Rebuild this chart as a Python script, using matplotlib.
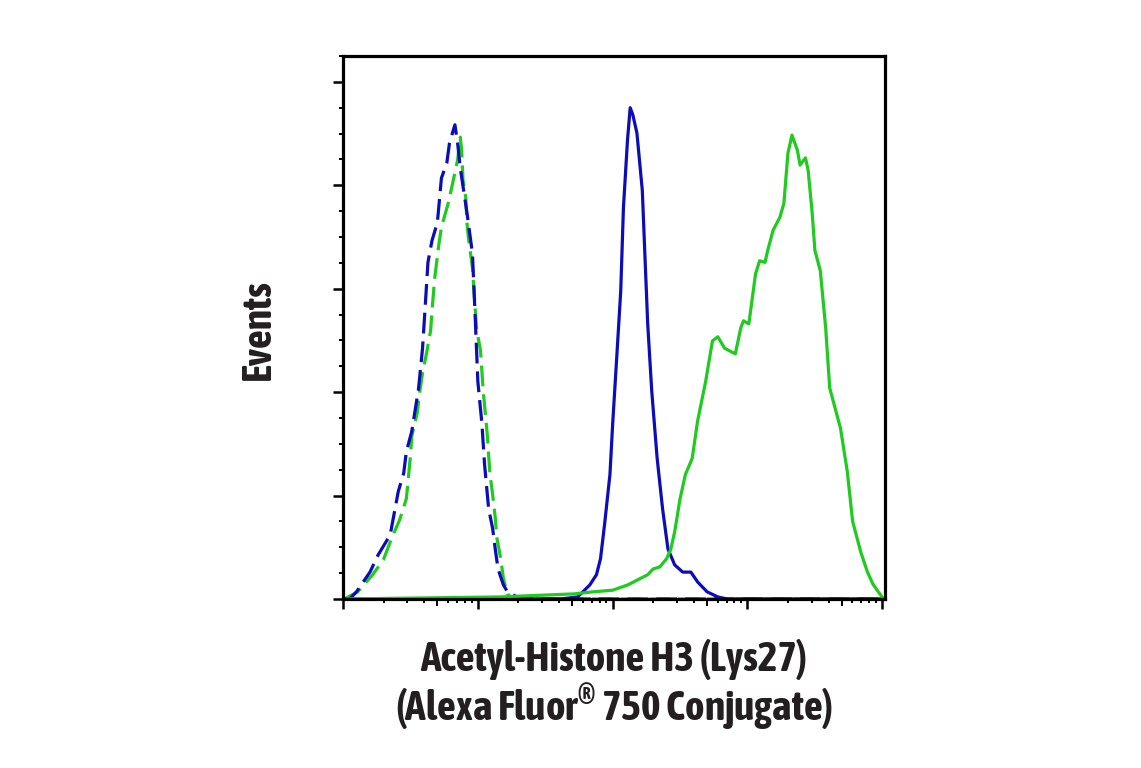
import numpy as np
import matplotlib
matplotlib.use('Agg')
import matplotlib.pyplot as plt
from matplotlib import font_manager
from matplotlib.ticker import LogLocator, MultipleLocator, NullFormatter

# log10 of fluorescence intensity, and % of max events
blue_dash_x = [0.00, 0.05, 0.10, 0.20, 0.26, 0.35, 0.41, 0.45, 0.47, 0.51, 0.56, 0.59, 0.61, 0.63,
               0.66, 0.70, 0.73, 0.77, 0.79, 0.83, 0.85, 0.87, 0.92, 0.96, 0.98, 1.00, 1.03, 1.05,
               1.08, 1.11, 1.13, 1.15, 1.19, 1.22, 1.29, 1.46, 4.02]
blue_dash_y = [0, 0, 1.4, 5.2, 8.5, 12.4, 20.8, 24.3, 28.5, 32.4, 40.6, 48.5, 56.7, 65.1,
               69.3, 72.8, 81.4, 84.3, 88.2, 91.7, 88.2, 83.3, 74.6, 66.8, 54.8, 42.1, 34.0, 26.0,
               17.5, 13.6, 9.5, 5.8, 2.7, 1.4, 0.4, 0, 0]

green_dash_x = [0.00, 0.01, 0.11, 0.22, 0.30, 0.36, 0.42, 0.47, 0.50, 0.51, 0.55, 0.57, 0.59, 0.62,
                0.65, 0.66, 0.68, 0.71, 0.73, 0.78, 0.81, 0.85, 0.87, 0.88, 0.89, 0.91, 0.92, 0.93,
                0.96, 0.98, 0.99, 1.02, 1.04, 1.07, 1.09, 1.11, 1.13, 1.14, 1.17, 1.19, 1.22,
                1.25, 1.46, 4.02]
green_dash_y = [0, 0, 1.4, 4.7, 7.6, 11.7, 15.3, 19.4, 27.6, 31.5, 35.9, 40.2, 43.7, 47.6,
                51.9, 55.7, 62.0, 68.4, 71.9, 76.5, 80.0, 84.9, 89.3, 86.8, 81.0, 77.7, 72.6, 69.9,
                64.1, 56.3, 52.4, 48.0, 40.2, 31.8, 24.1, 20.2, 15.5, 12.0, 7.8, 3.9, 1.0,
                0.2, 0, 0]

blue_x = [0.00, 1.61, 1.74, 1.83, 1.88, 1.91, 1.94, 1.98, 2.00, 2.03, 2.06, 2.08, 2.11, 2.13,
          2.15, 2.18, 2.22, 2.24, 2.26, 2.29, 2.33, 2.37, 2.41, 2.46, 2.52, 2.58, 2.63, 2.70,
          2.78, 2.85, 4.02]
blue_y = [0, 0, 0.4, 2.7, 4.7, 7.8, 14.4, 24.1, 33.8, 46.6, 59.6, 75.7, 88.7, 95.0,
          93.6, 90.1, 79.0, 66.0, 53.2, 40.2, 27.2, 17.5, 9.7, 6.6, 5.2, 5.2, 3.3, 1.4,
          0.4, 0, 0]

green_x = [0.00, 1.17, 1.72, 1.86, 2.00, 2.11, 2.20, 2.26, 2.30, 2.35, 2.40, 2.43, 2.46, 2.50,
           2.54, 2.59, 2.63, 2.69, 2.74, 2.78, 2.83, 2.91, 2.95, 2.97, 3.01, 3.06, 3.09, 3.13,
           3.15, 3.19, 3.24, 3.27, 3.30, 3.33, 3.37, 3.39, 3.43, 3.45, 3.48, 3.50, 3.54, 3.58,
           3.61, 3.65, 3.69, 3.74, 3.78, 3.84, 3.89, 3.93, 3.97, 4.01]
green_y = [0, 0.4, 1.0, 1.4, 1.7, 2.7, 3.9, 4.7, 5.8, 6.2, 7.8, 9.5, 13.0, 19.4,
           24.1, 27.2, 34.4, 42.1, 49.9, 50.7, 48.5, 47.4, 52.4, 53.8, 53.2, 62.9, 65.4, 65.1,
           67.4, 71.3, 73.8, 76.5, 86.2, 89.7, 86.8, 83.9, 85.3, 82.9, 74.6, 67.4, 63.5, 52.4,
           40.8, 36.9, 33.0, 24.7, 15.0, 9.1, 5.2, 2.9, 1.4, 0]

BLUE = '#0c0cb8'
GREEN = '#1ecb1e'
TXT = '#231f20'

# look for a narrow / condensed bold face among the installed fonts
narrow = None
for f in font_manager.fontManager.ttflist:
    n = f.name.lower()
    if ('narrow' in n or 'condensed' in n) and f.weight in ('bold', 700):
        narrow = f.fname
        break
if narrow is None:
    for f in font_manager.fontManager.ttflist:
        if 'condensed' in f.fname.lower() and 'bold' in f.fname.lower():
            narrow = f.fname
            break

if narrow:
    fp = font_manager.FontProperties(fname=narrow, size=30)
else:
    fp = font_manager.FontProperties(family='DejaVu Sans', weight='bold', stretch='condensed', size=24)

plt.rcParams['mathtext.default'] = 'regular'

fig = plt.figure(figsize=(11.41, 7.68), dpi=100)
ax = fig.add_axes([343/1141, 1-599/768, 542/1141, 543/768])

dash = (6.5, 2.5)
ax.plot(10**np.array(green_dash_x), green_dash_y, color=GREEN, lw=2.3, dashes=dash)
ax.plot(10**np.array(blue_dash_x), blue_dash_y, color=BLUE, lw=2.3, dashes=dash)
ax.plot(10**np.array(blue_x), blue_y, color=BLUE, lw=2.3)
ax.plot(10**np.array(green_x), green_y, color=GREEN, lw=2.3)

ax.set_xscale('log')
ax.set_xlim(1, 10**4.02)
ax.set_ylim(0, 105)
ax.xaxis.set_major_locator(LogLocator(base=10, numticks=10))
ax.xaxis.set_minor_locator(LogLocator(base=10, subs=np.arange(2, 10), numticks=20))
ax.xaxis.set_major_formatter(NullFormatter())
ax.xaxis.set_minor_formatter(NullFormatter())
ax.yaxis.set_major_locator(MultipleLocator(20))
ax.yaxis.set_minor_locator(MultipleLocator(5))
ax.yaxis.set_major_formatter(NullFormatter())

for s in ax.spines.values():
    s.set_linewidth(2.3)
    s.set_color('black')
ax.tick_params(which='major', length=7.5, width=1.8, direction='out')
ax.tick_params(which='minor', length=3, width=1.4, direction='out')

# the "5" minor ticks of each decade are drawn a bit longer
for loc, t in zip(ax.xaxis.get_minorticklocs(), ax.xaxis.get_minor_ticks()):
    m = loc / 10**np.floor(np.log10(loc) + 1e-9)
    if abs(m - 5) < 0.01:
        t.tick1line.set_markersize(5)

fig.text(259/1141, 1-330/768, 'Events', rotation=90, ha='center', va='center',
         color=TXT, fontproperties=fp)
fig.text(614/1141, 1-659/768, 'Acetyl-Histone H3 (Lys27)', ha='center', va='center',
         color=TXT, fontproperties=fp)
fig.text(614/1141, 1-707/768, '(Alexa Fluor$^{®}$ 750 Conjugate)', ha='center', va='center',
         color=TXT, fontproperties=fp)

fig.savefig('out.png', dpi=100)
